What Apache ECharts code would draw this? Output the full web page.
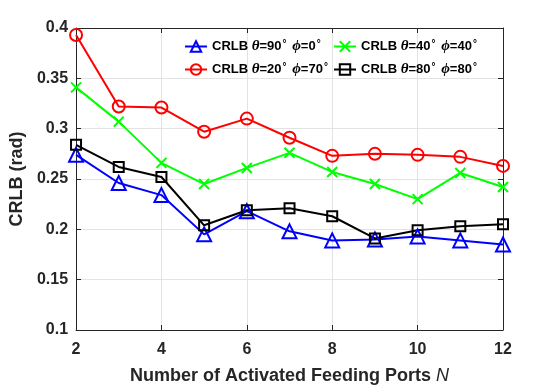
<!DOCTYPE html>
<html>
<head>
<meta charset="utf-8">
<script src="https://cdn.jsdelivr.net/npm/echarts@6/dist/echarts.min.js"></script>
<style>
  html, body { margin: 0; padding: 0; background: #fff; }
  #chart { width: 556px; height: 390px; }
</style>
</head>
<body>
<div id="chart"></div>
<script>
// x 轴：激活馈电端口数 N
const portsN = [2, 3, 4, 5, 6, 7, 8, 9, 10, 11, 12];
const xTicks = [2, 4, 6, 8, 10, 12];
const yTicks = [0.1, 0.15, 0.2, 0.25, 0.3, 0.35, 0.4];

// 各组角度下的 CRLB (rad)
const crlbT90P0 = [0.274, 0.246, 0.234, 0.195, 0.218, 0.198, 0.189, 0.190, 0.193, 0.189, 0.185];
const crlbT40P40 = [0.341, 0.307, 0.266, 0.245, 0.261, 0.276, 0.257, 0.245, 0.230, 0.256, 0.242];
const crlbT20P70 = [0.393, 0.322, 0.321, 0.297, 0.310, 0.291, 0.273, 0.275, 0.274, 0.272, 0.263];
const crlbT80P80 = [0.284, 0.262, 0.252, 0.204, 0.219, 0.221, 0.213, 0.191, 0.199, 0.203, 0.205];

const names = [
  'CRLB {i|θ}=90{s|°} {i|ϕ}=0{s|°}',
  'CRLB {i|θ}=40{s|°} {i|ϕ}=40{s|°}',
  'CRLB {i|θ}=20{s|°} {i|ϕ}=70{s|°}',
  'CRLB {i|θ}=80{s|°} {i|ϕ}=80{s|°}'
];

const AX = '#262626';
const GRID = '#e3e3e3';
const SANS = '"Liberation Sans", Arial, sans-serif';
const crossPath = 'path://M0,0L10,10M10,0L0,10';

function pairs(vals) {
  return portsN.map((n, i) => [n, vals[i]]);
}

function lineSeries(name, vals, color, symbol, size) {
  return {
    name: name,
    type: 'line',
    data: pairs(vals),
    symbol: symbol,
    symbolSize: size,
    showAllSymbol: true,
    lineStyle: { color: color, width: 2 },
    itemStyle: { color: 'rgba(0,0,0,0)', borderColor: color, borderWidth: 2 },
    emphasis: { disabled: true },
    animation: false
  };
}

const legendText = {
  fontFamily: SANS,
  fontWeight: 'bold',
  fontSize: 13,
  color: '#000',
  lineHeight: 14,
  rich: {
    i: { fontFamily: '"Liberation Serif", serif', fontStyle: 'italic', fontWeight: 'bold', fontSize: 15, color: '#000' },
    s: { fontFamily: SANS, fontSize: 10, color: '#000', verticalAlign: 'top', lineHeight: 14, padding: [0, 2, 0, 1] }
  }
};

const chart = echarts.init(document.getElementById('chart'));
chart.setOption({
  backgroundColor: '#fff',
  animation: false,
  grid: { left: 72, right: 53, top: 28, bottom: 54 },
  legend: [
    {
      data: [names[0], names[2]],
      orient: 'vertical', left: 179, top: 34,
      itemWidth: 22, itemHeight: 13, itemGap: 8,
      textStyle: legendText, selectedMode: false
    },
    {
      data: [names[1], names[3]],
      orient: 'vertical', left: 328, top: 34,
      itemWidth: 22, itemHeight: 13, itemGap: 8,
      textStyle: legendText, selectedMode: false
    }
  ],
  xAxis: [
    {
      type: 'value', min: xTicks[0], max: xTicks[xTicks.length - 1], interval: 2,
      name: 'Number of Activated Feeding Ports {n|N}',
      nameLocation: 'middle', nameGap: 37,
      nameTextStyle: {
        fontFamily: SANS, fontWeight: 'bold', fontSize: 18, color: '#262626',
        rich: { n: { fontFamily: SANS, fontStyle: 'italic', fontWeight: 'normal', fontSize: 18, color: '#262626' } }
      },
      axisLine: { show: true, lineStyle: { color: AX, width: 1 } },
      axisTick: { show: true, inside: true, length: 5, lineStyle: { color: AX } },
      axisLabel: { fontFamily: SANS, fontWeight: 'bold', fontSize: 16, color: '#262626', margin: 12 },
      splitLine: { show: true, lineStyle: { color: GRID, width: 1 } }
    },
    {
      type: 'value', position: 'top', min: xTicks[0], max: xTicks[xTicks.length - 1], interval: 2,
      axisLine: { show: true, lineStyle: { color: AX, width: 1 } },
      axisTick: { show: true, inside: true, length: 5, lineStyle: { color: AX } },
      axisLabel: { show: false },
      splitLine: { show: false }
    }
  ],
  yAxis: [
    {
      type: 'value', min: yTicks[0], max: yTicks[yTicks.length - 1], interval: 0.05,
      name: 'CRLB (rad)',
      nameLocation: 'middle', nameGap: 43, nameRotate: 90,
      nameTextStyle: { fontFamily: SANS, fontWeight: 'bold', fontSize: 18, color: '#262626' },
      axisLine: { show: true, lineStyle: { color: AX, width: 1 } },
      axisTick: { show: true, inside: true, length: 5, lineStyle: { color: AX } },
      axisLabel: {
        fontFamily: SANS, fontWeight: 'bold', fontSize: 16, color: '#262626', margin: 8,
        formatter: v => String(parseFloat(v.toFixed(2)))
      },
      splitLine: { show: true, lineStyle: { color: GRID, width: 1 } }
    },
    {
      type: 'value', position: 'right', min: yTicks[0], max: yTicks[yTicks.length - 1], interval: 0.05,
      axisLine: { show: true, lineStyle: { color: AX, width: 1 } },
      axisTick: { show: true, inside: true, length: 5, lineStyle: { color: AX } },
      axisLabel: { show: false },
      splitLine: { show: false }
    }
  ],
  series: [
    lineSeries(names[0], crlbT90P0, '#0000ff', 'triangle', 14),
    lineSeries(names[1], crlbT40P40, '#00ff00', crossPath, 10),
    lineSeries(names[2], crlbT20P70, '#ff0000', 'circle', 12),
    lineSeries(names[3], crlbT80P80, '#000000', 'rect', 10)
  ]
});
</script>
</body>
</html>
